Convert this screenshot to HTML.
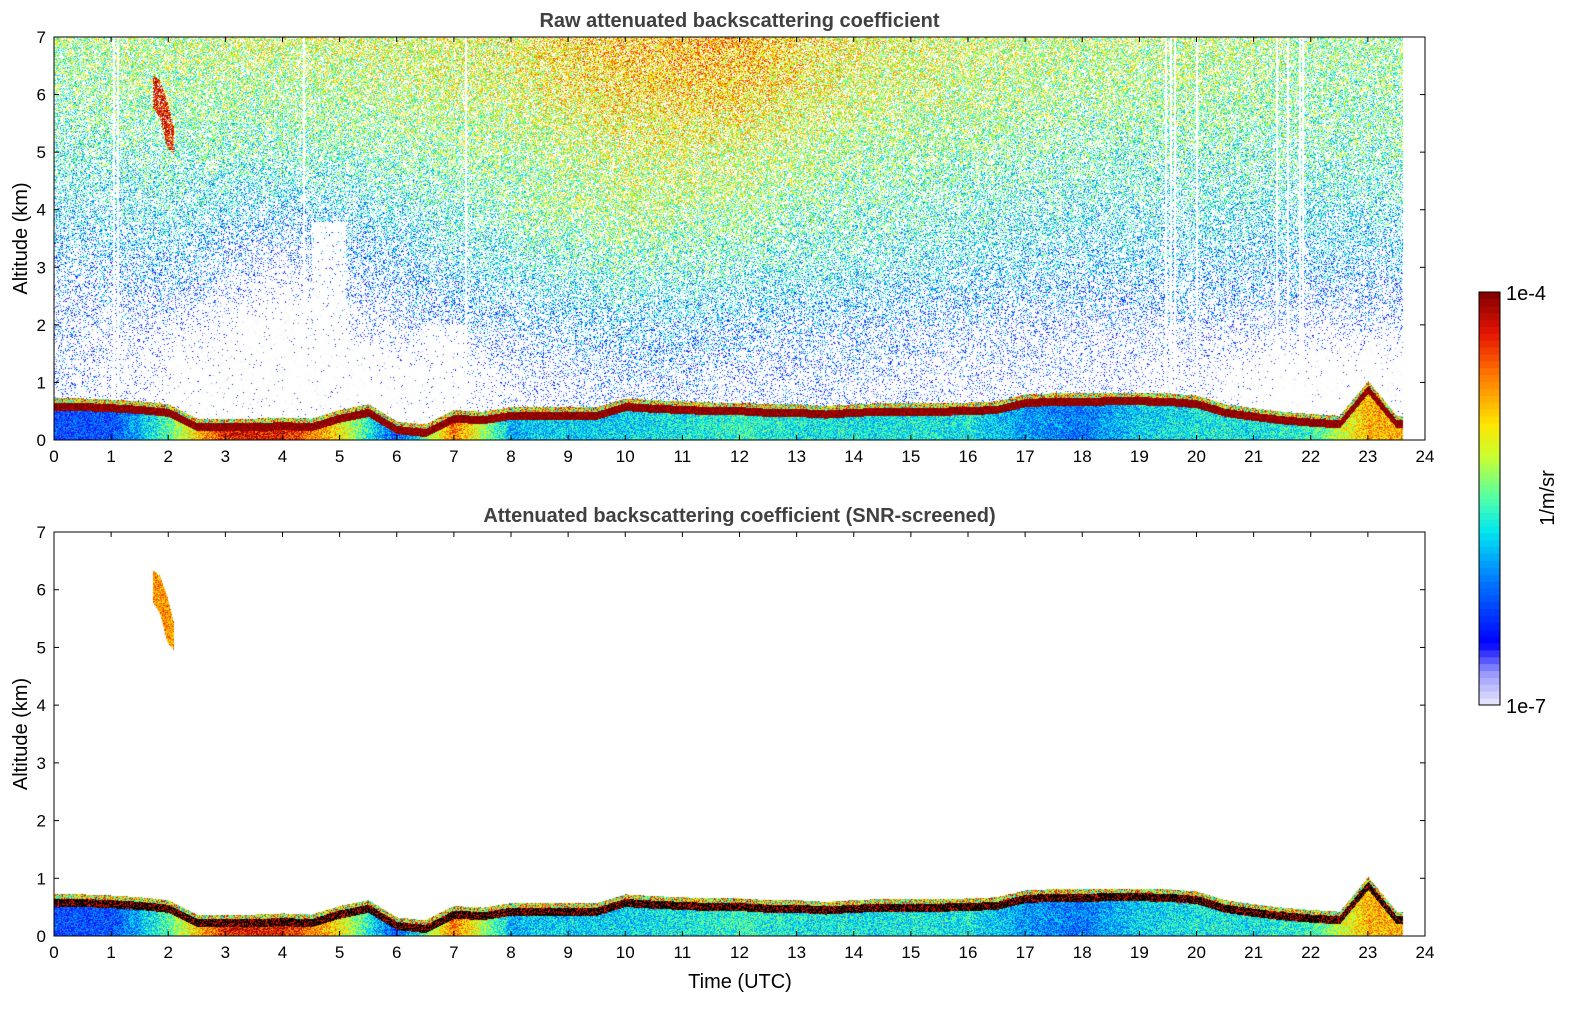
<!DOCTYPE html>
<html><head><meta charset="utf-8">
<style>
body{margin:0;background:#fff;width:1595px;height:1020px;overflow:hidden;position:relative;font-family:"Liberation Sans","DejaVu Sans",sans-serif}
canvas{position:absolute}
svg{position:absolute;left:0;top:0}
</style></head><body>
<canvas id="c1" width="1371" height="403" style="left:54px;top:37px"></canvas>
<canvas id="c2" width="1371" height="404" style="left:54px;top:532px"></canvas>
<svg id="s" width="1595" height="1020"></svg>
<script>
// ---- data ----
const bgHours=[0,2,4,6,8,10,12,14,16,18,20,22,24];
const bgAlt=[0,1,2,3,4,5,6,7];
const bgVals=[
[-6.4,-6.7,-7,-7,-6.5,-6.3,-6.4,-6.4,-6.5,-6.5,-6.6,-7,-7],
[-6.4,-6.7,-7,-7,-6.5,-6.3,-6.4,-6.4,-6.5,-6.5,-6.6,-7,-7],
[-6.35,-6.45,-6.9,-6.35,-6.15,-5.95,-6.05,-6.15,-6.25,-6.35,-6.35,-6.45,-6.45],
[-6.15,-6.05,-6.5,-6.05,-5.75,-5.55,-5.65,-5.75,-5.85,-5.95,-5.95,-6.05,-6.05],
[-5.85,-5.75,-5.95,-5.75,-5.45,-5.25,-5.35,-5.55,-5.65,-5.75,-5.75,-5.75,-5.75],
[-5.65,-5.55,-5.55,-5.45,-5.35,-5.15,-5.15,-5.35,-5.45,-5.55,-5.55,-5.55,-5.55],
[-5.45,-5.35,-5.35,-5.25,-5.15,-4.9,-4.9,-5.15,-5.25,-5.35,-5.35,-5.45,-5.45],
[-5.35,-5.25,-5.15,-5.15,-5.05,-4.8,-4.75,-5.05,-5.15,-5.25,-5.25,-5.35,-5.35]];
const gapT0=[2.1,4.5,6.4,22.0];
const gapT1=[4.5,5.1,7.2,23.3];
const gapZ=[1.6,3.8,2.0,1.4];
const belowVal=[-6.3,-6.3,-5.5,-4.3,-4.3,-5,-6.3,-4.6,-5.9,-5.8,-5.8,-5.7,-5.6,-5.7,-5.7,-5.7,-5.7,-6.0,-6.1,-5.8,-5.7,-5.7,-5.6,-4.8,-4.8];
const layerTop=[0.65,0.65,0.63,0.6,0.55,0.3,0.3,0.3,0.32,0.3,0.45,0.55,0.25,0.2,0.45,0.42,0.5,0.5,0.5,0.5,0.65,0.62,0.6,0.58,0.58,0.55,0.55,0.52,0.55,0.57,0.57,0.57,0.58,0.6,0.72,0.74,0.74,0.75,0.75,0.74,0.7,0.55,0.48,0.42,0.38,0.35,0.95,0.35,0.35];
const cloudT=[1.72,1.85,1.95,2.1];
const cloudTop=[6.35,6.25,5.9,5.4];
const cloudBot=[5.8,5.6,5.1,4.95];
const cloudVal=-4.5;
const dataEnd=23.6;
const stripeT=[1.05,1.12,4.37,7.2,19.45,19.55,19.62,20.0,21.4,21.6,21.8,21.85];
const xTicks=[...Array(25).keys()];
const yTicks=[0,1,2,3,4,5,6,7];
// ---- helpers ----
const X0=54,X1=1425;
const xs=t=>X0+(t/24)*(X1-X0);
const stops=[[0,[235,235,255]],[0.08,[150,150,255]],[0.15,[0,0,255]],[0.3,[0,120,255]],[0.42,[0,230,240]],[0.5,[80,255,170]],[0.6,[200,255,50]],[0.68,[255,230,0]],[0.8,[255,120,0]],[0.9,[230,20,0]],[1,[128,0,0]]];
function cmap(v){let f=(v+7)/3;f=Math.max(0,Math.min(1,f));for(let i=1;i<stops.length;i++){if(f<=stops[i][0]){const a=stops[i-1],b=stops[i],u=(f-a[0])/(b[0]-a[0]);return a[1].map((c,k)=>c+(b[1][k]-c)*u);}}return stops[stops.length-1][1];}
function interp1(arr,step,t){const i=Math.min(arr.length-2,Math.floor(t/step));const u=t/step-i;return arr[i]*(1-u)+arr[i+1]*u;}
function bg(t,z){let ci=Math.min(11,Math.floor(t/2)),cu=(t-bgHours[ci])/2;let ri=Math.min(6,Math.floor(z)),ru=z-ri;
 const a=bgVals[ri][ci]*(1-cu)+bgVals[ri][ci+1]*cu,b=bgVals[ri+1][ci]*(1-cu)+bgVals[ri+1][ci+1]*cu;return a*(1-ru)+b*ru;}
function hash(x,y){let h=(x*374761393+y*668265263)^0x5bd1e995;h=(h^(h>>>13))*1274126177;h=h^(h>>>16);return (h>>>0)/4294967296;}
function cloudAt(t,z){if(t<cloudT[0]||t>cloudT[3])return false;const tp=interp1(cloudTop,1,(t-cloudT[0])/(cloudT[3]-cloudT[0])*3),bt=interp1(cloudBot,1,(t-cloudT[0])/(cloudT[3]-cloudT[0])*3);return z<tp&&z>bt;}
function draw(id,screened){
 const c=document.getElementById(id),ctx=c.getContext('2d'),W=c.width,H=c.height,img=ctx.createImageData(W,H),d=img.data;
 for(let x=0;x<W;x++){const t=x/W*24;const lt=interp1(layerTop,0.5,t);const bv=interp1(belowVal,1,t);
  let stripe=false;for(const s of stripeT)if(Math.abs(xs(s)-X0-x)<1)stripe=true;
  for(let y=0;y<H;y++){const z=(H-y)/H*7;const i=(y*W+x)*4;let col=[255,255,255];
   const n=hash(x,y),n2=hash(y+7,x+3);
   if(t<=dataEnd){
    if(z<lt-0.14){col=cmap(bv+(n-0.5)*0.8);}
    else if(z<lt){col=screened?[15,5,0]:cmap(-4+(n-0.5)*0.4);if(screened&&n<0.25)col=cmap(-4.3);}
    else if(z<lt+0.08){col=cmap(-5.0+(n-0.5)*1.8);}
    else if(cloudAt(t,z)){if(!screened&&n2>0.8)col=[255,255,255];else col=cmap((screened?cloudVal-0.2:cloudVal+0.2)+(n-0.5)*0.7);}
    else if(!screened&&!stripe){let v=bg(t,z);let gap=0;for(let g=0;g<gapT0.length;g++)if(t>gapT0[g]&&t<gapT1[g]&&z<gapZ[g])gap=1;
     let pw=0.38+(-5.1-v)*0.35;if(gap)pw=0.985;pw=Math.min(0.97,Math.max(0.3,pw));
     if(n2>pw)col=cmap(v+(n-0.5)*1.1);}
   }
   d[i]=col[0];d[i+1]=col[1];d[i+2]=col[2];d[i+3]=255;}}
 ctx.putImageData(img,0,0);}
draw('c1',false);draw('c2',true);
// ---- axes ----
const s=document.getElementById('s');const NS='http://www.w3.org/2000/svg';
function el(tag,at,txt){const e=document.createElementNS(NS,tag);for(const k in at)e.setAttribute(k,at[k]);if(txt!==undefined)e.textContent=txt;s.appendChild(e);return e;}
function axes(top,bot,title,tname){
 const f=el('rect',{x:X0,y:top,width:X1-X0,height:bot-top,fill:'none',stroke:'#000','stroke-width':1});
 
 for(const t of xTicks){const x=xs(t);el('line',{x1:x,x2:x,y1:bot,y2:bot-5,stroke:'#000'});el('line',{x1:x,x2:x,y1:top,y2:top+5,stroke:'#000'});
  const l=el('text',{x:x,y:bot+22,'font-size':17,'text-anchor':'middle'},t);}
 for(const v of yTicks){const y=bot-v/7*(bot-top);el('line',{x1:X0,x2:X0+5,y1:y,y2:y,stroke:'#000'});el('line',{x1:X1,x2:X1-5,y1:y,y2:y,stroke:'#000'});
  const l=el('text',{x:X0-8,y:y+6,'font-size':17,'text-anchor':'end'},v);}
 const ti=el('text',{x:(X0+X1)/2,y:top-10,'font-size':20,'font-weight':'bold','text-anchor':'middle',fill:'#404040'},title);
 
 const yl=el('text',{x:0,y:0,'font-size':20,'text-anchor':'middle',transform:`translate(27,${(top+bot)/2}) rotate(-90)`},'Altitude (km)');
 }
axes(37,440,'Raw attenuated backscattering coefficient','raw-plot');
axes(532,936,'Attenuated backscattering coefficient (SNR-screened)','screened-plot');
const xl=el('text',{x:740,y:988,'font-size':20,'text-anchor':'middle'},'Time (UTC)');

// colorbar
const N=60;for(let i=0;i<N;i++){const c=cmap(-7+3*(i+0.5)/N);const h=413/N;
 const r=el('rect',{x:1479,y:705-(i+1)*h,width:21,height:h+0.5,fill:`rgb(${c.map(Math.round).join(',')})`});
 }
const cb=el('rect',{x:1479,y:292,width:21,height:413,fill:'none',stroke:'#000'});
const t1=el('text',{x:1506,y:300,'font-size':20},'1e-4');
const t2=el('text',{x:1506,y:713,'font-size':20},'1e-7');
const u=el('text',{x:0,y:0,'font-size':20,'text-anchor':'middle',transform:'translate(1554,498) rotate(-90)'},'1/m/sr');

</script>
</body></html>
